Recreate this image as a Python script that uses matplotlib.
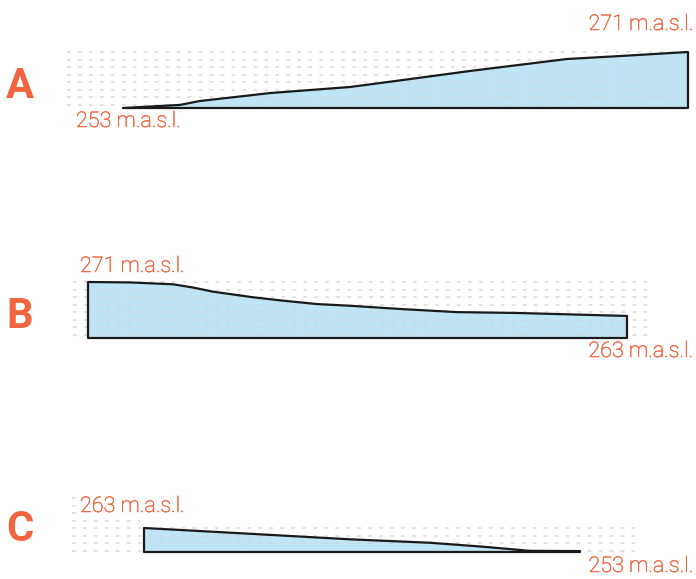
import matplotlib
matplotlib.use("Agg")
import matplotlib.pyplot as plt
import matplotlib.transforms as mtransforms
import matplotlib.patheffects as pe

plt.rcParams['lines.scale_dashes'] = False

# ---- data: distance along profile (m) and elevation (m a.s.l.) ----
dist_a = [0, 570, 770, 1470, 2270, 2800, 3470, 4440, 4970, 5650]
elev_a = [253.0, 254.0, 255.25, 257.8, 259.75, 262.0, 264.9, 268.75, 269.7, 271.0]

dist_b = [0, 420, 850, 1050, 1250, 1650, 1950, 2290, 2620, 3150, 3690, 4290, 5390]
elev_b = [271.0, 270.9, 270.46, 269.7, 268.72, 267.4, 266.6, 265.8, 265.4,
          264.6, 263.9, 263.7, 263.0]

dist_c = [0, 1060, 2060, 2860, 3390, 3860, 4360]
elev_c = [263.0, 260.5, 258.1, 256.6, 254.9, 253.1, 253.0]

panel_letters = ["A", "B", "C"]
start_labels = ["253 m.a.s.l.", "271 m.a.s.l.", "263 m.a.s.l."]
end_labels = ["271 m.a.s.l.", "263 m.a.s.l.", "253 m.a.s.l."]

# ---- layout / style ----
W, H = 696, 579
fig = plt.figure(figsize=(W / 100, H / 100), dpi=100)

ORANGE = "#f2643f"
LABEL = "#f1653f"
FILL = "#bfe5f5"
GRID = "#d4d4d4"
PX_PER_M = 0.1  # horizontal scale

panels = [
    dict(start=123, top=52, bottom=108, ylim=(253.0, 271.0), grid=(67, 690),
         short_rows=0, short_end=0),
    dict(start=88, top=282, bottom=338, ylim=(257.8, 271.0), grid=(73, 652),
         short_rows=0, short_end=0),
    dict(start=144, top=498, bottom=552, ylim=(252.6, 276.0), grid=(72, 637),
         short_rows=4, short_end=140),
]
data = [(dist_a, elev_a), (dist_b, elev_b), (dist_c, elev_c)]

for p, (d, e) in zip(panels, data):
    ax = fig.add_axes([0, 1 - p["bottom"] / H, 1, (p["bottom"] - p["top"]) / H])
    ax.set_xlim(-p["start"] / PX_PER_M, (W - p["start"]) / PX_PER_M)
    ax.set_ylim(*p["ylim"])
    ax.axis("off")
    base = p["ylim"][0]
    xs = [d[0]] + list(d) + [d[-1]]
    ys = [base] + list(e) + [base]
    ax.fill(xs, ys, facecolor=FILL, edgecolor="none", zorder=1)
    ax.fill(xs, ys, facecolor="none", edgecolor="#1a1a1a", linewidth=1.6,
            joinstyle="round", zorder=4, clip_on=False)
    # dashed background rows
    trans = mtransforms.blended_transform_factory(ax.transData, ax.transAxes)
    hpx = p["bottom"] - p["top"]
    gx0 = (p["grid"][0] - p["start"]) / PX_PER_M
    for i in range(8):
        end_px = p["short_end"] if i < p["short_rows"] else p["grid"][1]
        gx1 = (end_px - p["start"]) / PX_PER_M
        yf = 1 - (i * 7.55) / hpx
        ax.plot([gx0, gx1], [yf, yf], transform=trans, color=GRID, lw=1.1,
                dashes=(2.6, 5.3), alpha=0.85, zorder=2, clip_on=False,
                solid_capstyle="butt", dash_capstyle="butt")


def ftext(x, y, s, **kw):
    return fig.text(x / W, 1 - y / H, s, **kw)


lab_kw = dict(fontsize=15.5, color=LABEL, family=["Roboto", "DejaVu Sans"],
              fontweight="light", va="baseline", zorder=10,
              path_effects=[pe.withStroke(linewidth=0.35, foreground=LABEL)])
let_kw = dict(fontsize=30, color=ORANGE, family=["Roboto", "DejaVu Sans"],
              fontweight="bold", va="baseline", ha="center")

# panel letters
ftext(20, 98, panel_letters[0], **let_kw)
ftext(20, 328, panel_letters[1], **let_kw)
ftext(20, 541, panel_letters[2], **let_kw)

# elevation labels
ftext(76, 127, start_labels[0], ha="left", **lab_kw)
ftext(693, 30, end_labels[0], ha="right", **lab_kw)
ftext(80, 272, start_labels[1], ha="left", **lab_kw)
ftext(693, 357, end_labels[1], ha="right", **lab_kw)
ftext(80, 512, start_labels[2], ha="left",
      bbox=dict(facecolor="white", edgecolor="none", pad=1.5), **lab_kw)
ftext(693, 572, end_labels[2], ha="right", **lab_kw)

fig.savefig("out.png", dpi=100, facecolor="white")
